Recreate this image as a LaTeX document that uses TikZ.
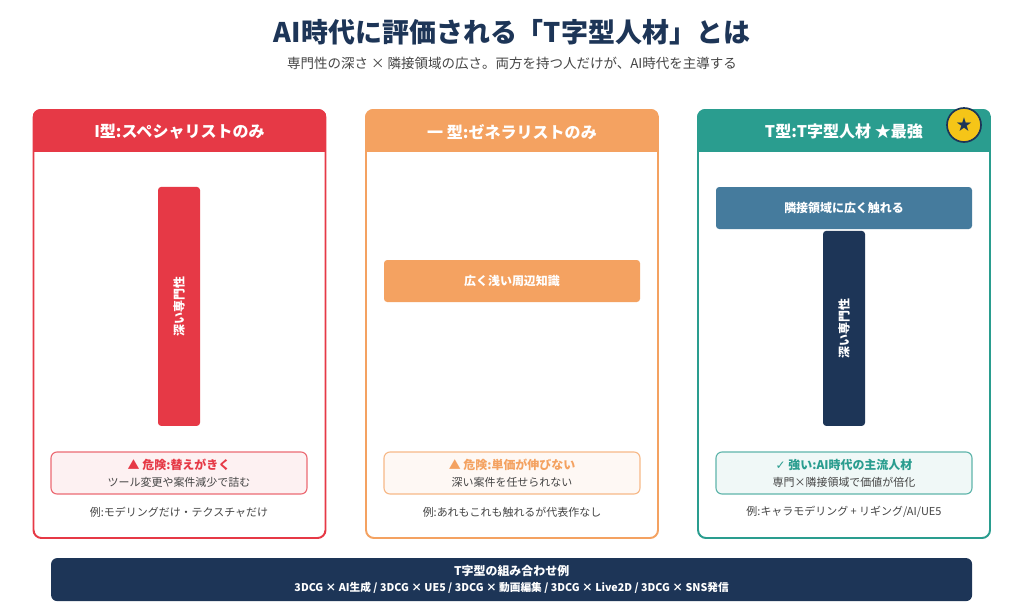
\documentclass[tikz,border=0pt]{standalone}
\usepackage{fontspec}
\setmainfont{Noto Sans CJK JP}
\newfontfamily\symfont{DejaVu Sans}
\definecolor{tred}{HTML}{E63946}
\definecolor{torange}{HTML}{F4A261}
\definecolor{tteal}{HTML}{2A9D8F}
\definecolor{tnavy}{HTML}{1D3557}
\definecolor{tsteel}{HTML}{457B9D}
\definecolor{tyellow}{HTML}{F5C518}
\definecolor{tgray}{HTML}{444444}
\newcommand{\fs}[1]{\fontsize{#1}{#1}\selectfont}
\begin{document}
\begin{tikzpicture}[
  card/.style={draw=#1, line width=1.4pt, fill=white, rounded corners=0.2cm, minimum width=7.3cm, minimum height=10.7cm},
  hdr/.style={text=white, font=\bfseries\fs{11.4}},
  bar/.style={fill=#1, rounded corners=0.08cm, text=white, font=\bfseries\fs{8.5}},
  note/.style={draw=#1!75, fill=#1!7, line width=0.8pt, rounded corners=0.15cm, minimum width=6.4cm, minimum height=1.05cm},
  ex/.style={text=tgray, font=\fs{7.8}}
]
\useasboundingbox (0,0) rectangle (25.6,-15.35);

\node[text=tnavy, font=\bfseries\fs{19.2}] at (12.8,-0.8) (title) {AI時代に評価される「T字型人材」とは};
\node[text=tgray, font=\fs{9.6}] at (12.8,-1.575) (sub) {専門性の深さ × 隣接領域の広さ。両方を持つ人だけが、AI時代を主導する};

% cards
\node[card=tred] at (4.4875,-8.1) (c1) {};
\node[card=torange] at (12.8,-8.1) (c2) {};
\node[card=tteal] at (21.1,-8.1) (c3) {};

\begin{scope}
\clip[rounded corners=0.2cm] (c1.south west) rectangle (c1.north east);
\fill[tred] (c1.north west) rectangle ([yshift=-1.075cm]c1.north east);
\end{scope}
\begin{scope}
\clip[rounded corners=0.2cm] (c2.south west) rectangle (c2.north east);
\fill[torange] (c2.north west) rectangle ([yshift=-1.075cm]c2.north east);
\end{scope}
\begin{scope}
\clip[rounded corners=0.2cm] (c3.south west) rectangle (c3.north east);
\fill[tteal] (c3.north west) rectangle ([yshift=-1.075cm]c3.north east);
\end{scope}

\node[hdr] at (4.4875,-3.29) (h1) {I型:スペシャリストのみ};
\node[hdr] at (12.8,-3.29) (h2) {一 型:ゼネラリストのみ};
\node[hdr] at (21.1,-3.29) (h3) {T型:T字型人材 ★最強};

\node[circle, draw=tnavy, line width=1.2pt, fill=tyellow, minimum size=0.85cm, inner sep=0pt, text=tnavy, font=\fs{11}] at (24.1,-3.125) (star) {★};

% bars
\node[bar=tred, minimum width=5.975cm, minimum height=1.05cm, rotate=90] at (4.475,-7.66) (b1) {深い専門性};
\node[bar=torange, minimum width=6.4cm, minimum height=1.05cm] at (12.8,-7.025) (b2) {広く浅い周辺知識};
\node[bar=tsteel, minimum width=6.4cm, minimum height=1.05cm] at (21.1,-5.2) (b3) {隣接領域に広く触れる};
\node[bar=tnavy, minimum width=4.875cm, minimum height=1.05cm, rotate=90] at (21.1,-8.21) (b4) {深い専門性};

% notes
\node[note=tred] at (4.475,-11.825) (n1) {};
\node[note=torange] at (12.8,-11.825) (n2) {};
\node[note=tteal] at (21.1,-11.825) (n3) {};

\node[text=tred, font=\bfseries\fs{8.5}] at (4.475,-11.625) (n1a) {▲ 危険:替えがきく};
\node[text=tgray, font=\fs{7.8}] at (4.475,-12.05) (n1b) {ツール変更や案件減少で詰む};
\node[text=torange, font=\bfseries\fs{8.5}] at (12.8,-11.625) (n2a) {▲ 危険:単価が伸びない};
\node[text=tgray, font=\fs{7.8}] at (12.8,-12.05) (n2b) {深い案件を任せられない};
\node[text=tteal, font=\bfseries\fs{8.5}] at (21.1,-11.625) (n3a) {{\symfont ✓} 強い:AI時代の主流人材};
\node[text=tgray, font=\fs{7.8}] at (21.1,-12.05) (n3b) {専門×隣接領域で価値が倍化};

\node[ex] at (4.475,-12.8) (e1) {例:モデリングだけ・テクスチャだけ};
\node[ex] at (12.8,-12.8) (e2) {例:あれもこれも触れるが代表作なし};
\node[ex] at (21.1,-12.8) (e3) {例:キャラモデリング + リギング/AI/UE5};

% bottom
\node[fill=tnavy, rounded corners=0.15cm, minimum width=23.025cm, minimum height=1.075cm] at (12.79,-14.49) (combo) {};
\node[text=white, font=\bfseries\fs{8.5}] at (12.79,-14.275) (combo1) {T字型の組み合わせ例};
\node[text=white, font=\bfseries\fs{7.6}] at (12.79,-14.7) (combo2) {3DCG × AI生成 / 3DCG × UE5 / 3DCG × 動画編集 / 3DCG × Live2D / 3DCG × SNS発信};
\end{tikzpicture}
\end{document}
